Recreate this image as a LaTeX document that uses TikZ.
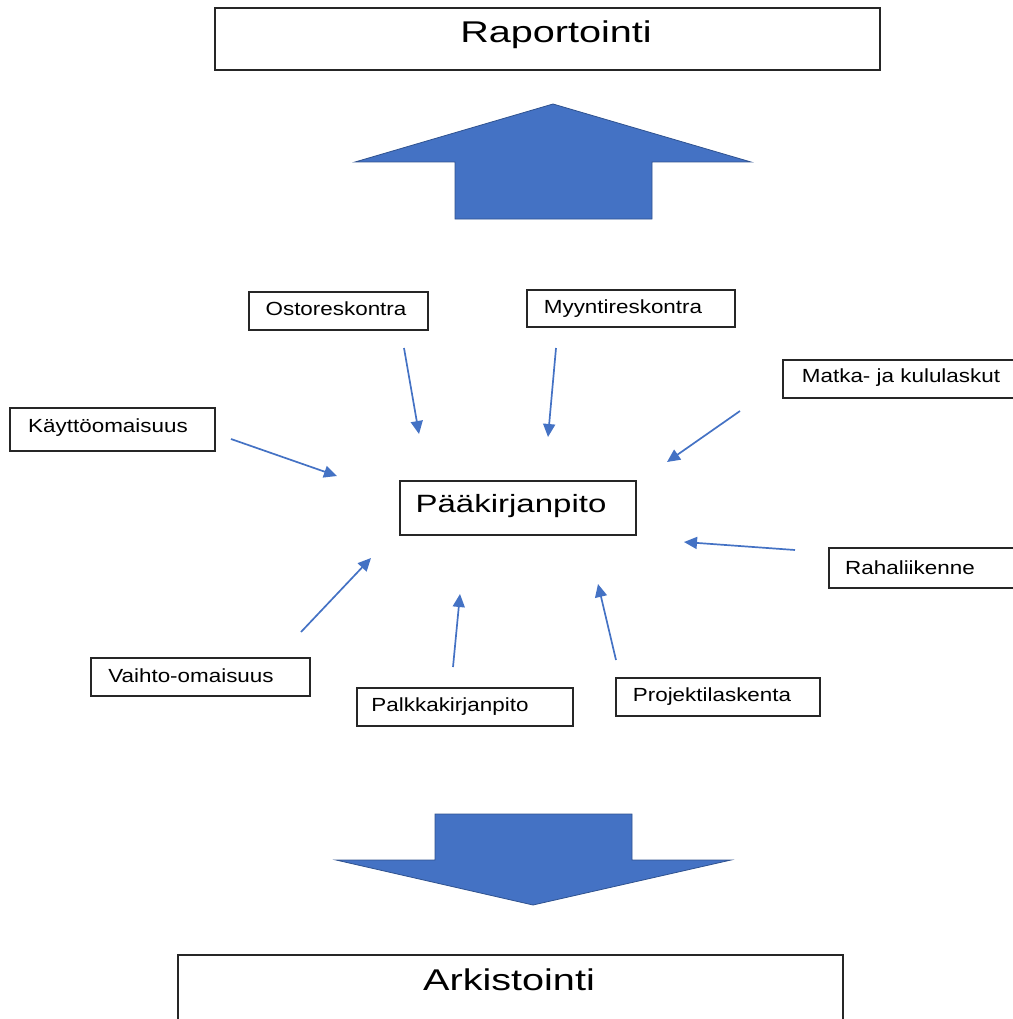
\documentclass[tikz,border=0pt]{standalone}
\usepackage{fontspec}
\setmainfont{Liberation Sans}
\newfontfamily\bigfont[FakeStretch=1.32]{Liberation Sans}
\newfontfamily\smallfont[FakeStretch=1.18]{Liberation Sans}
\usetikzlibrary{arrows.meta}
\definecolor{flowblue}{HTML}{4472C4}
\definecolor{flowedge}{HTML}{2F528F}
\begin{document}
\begin{tikzpicture}[x=1pt,y=-1pt]
% styles
\tikzset{
  box/.style={draw=black!85,line width=1.3pt,inner sep=0pt},
  bigtxt/.style={anchor=base,inner sep=0pt,font=\bigfont\fontsize{30}{36}\selectfont},
  midtxt/.style={anchor=base,inner sep=0pt,font=\bigfont\fontsize{25}{30}\selectfont},
  smalltxt/.style={anchor=base,inner sep=0pt,font=\smallfont\fontsize{19}{23}\selectfont},
  feed/.style={flowblue,line width=1.7pt,-{Triangle[length=13pt,width=12pt]}},
  bigarrow/.style={fill=flowblue,draw=flowedge,line width=0.8pt,line join=miter}
}
\useasboundingbox (0,0) rectangle (1012,1019);

% ----- top and bottom boxes -----
\node[box,minimum width=665pt,minimum height=62pt] (rap) at (547.5,39) {};
\node[bigtxt] (tRap) at (556,43) {Raportointi};
\node[box,minimum width=665pt,minimum height=70pt] (ark) at (510.5,990) {};
\node[bigtxt] (tArk) at (509,990) {Arkistointi};

% ----- big arrows -----
\draw[bigarrow] (455,219) -- (455,162) -- (355,162) -- (553,104) -- (751,162)
  -- (652,162) -- (652,219) -- cycle;
\draw[bigarrow] (435,814) -- (632,814) -- (632,860) -- (731,860) -- (533,905)
  -- (336,860) -- (435,860) -- cycle;

% ----- centre box -----
\node[box,minimum width=236pt,minimum height=54pt] (paa) at (518,508) {};
\node[midtxt] (tPaa) at (511,512) {Pääkirjanpito};

% ----- sub-ledgers -----
\node[box,minimum width=179pt,minimum height=38pt] (ost) at (338.5,311) {};
\node[smalltxt] (tOst) at (336,315) {Ostoreskontra};
\node[box,minimum width=208pt,minimum height=37pt] (myy) at (631,308.5) {};
\node[smalltxt] (tMyy) at (623,313) {Myyntireskontra};
\node[box,minimum width=232pt,minimum height=38pt] (mat) at (899,379) {};
\node[smalltxt] (tMat) at (901,382) {Matka- ja kululaskut};
\node[box,minimum width=205pt,minimum height=43pt] (kay) at (112.5,429.5) {};
\node[smalltxt] (tKay) at (108,432) {Käyttöomaisuus};
\node[box,minimum width=186pt,minimum height=40pt] (rah) at (922,568) {};
\node[smalltxt] (tRah) at (910,574) {Rahaliikenne};
\node[box,minimum width=219pt,minimum height=38pt] (vai) at (200.5,677) {};
\node[smalltxt] (tVai) at (191,682) {Vaihto-omaisuus};
\node[box,minimum width=216pt,minimum height=38pt] (pal) at (465,707) {};
\node[smalltxt] (tPal) at (450,711) {Palkkakirjanpito};
\node[box,minimum width=204pt,minimum height=38pt] (pro) at (718,697) {};
\node[smalltxt] (tPro) at (712,701) {Projektilaskenta};

% ----- feed arrows (free ends) -----
\coordinate (ostA) at (404,348);  \coordinate (ostB) at (419,434);
\coordinate (myyA) at (556,348);  \coordinate (myyB) at (548,437);
\coordinate (matA) at (740,411);  \coordinate (matB) at (667,462);
\coordinate (kayA) at (231,439);  \coordinate (kayB) at (337,476);
\coordinate (rahA) at (795,550);  \coordinate (rahB) at (684,542);
\coordinate (vaiA) at (301,632);  \coordinate (vaiB) at (371,558);
\coordinate (palA) at (453,667);  \coordinate (palB) at (460,594);
\coordinate (proA) at (616,660);  \coordinate (proB) at (598,584);

\draw[feed] (ostA) -- (ostB);
\draw[feed] (myyA) -- (myyB);
\draw[feed] (matA) -- (matB);
\draw[feed] (kayA) -- (kayB);
\draw[feed] (rahA) -- (rahB);
\draw[feed] (vaiA) -- (vaiB);
\draw[feed] (palA) -- (palB);
\draw[feed] (proA) -- (proB);
\end{tikzpicture}
\end{document}
